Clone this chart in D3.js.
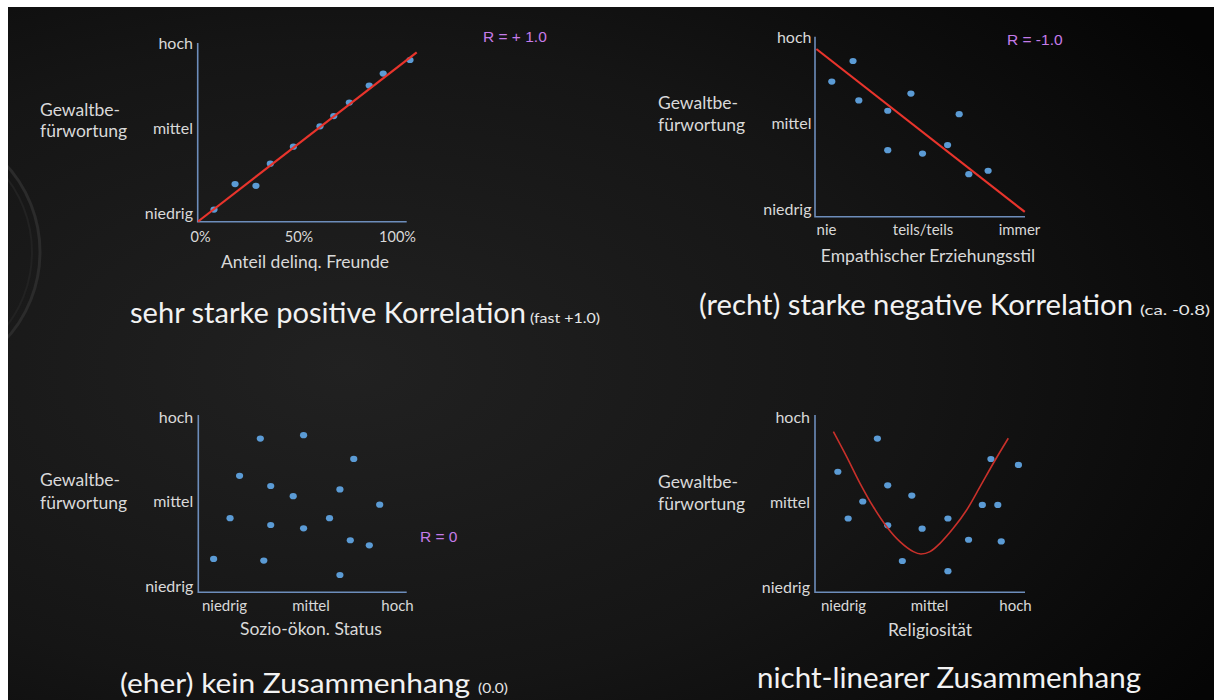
<!DOCTYPE html>
<html>
<head>
<meta charset="utf-8">
<title>Korrelationen</title>
<script src="https://cdn.jsdelivr.net/npm/d3@7"></script>
<style>
  body { margin: 0; background: #fff; overflow: hidden; }
  text { font-family: Lato, "Open Sans", sans-serif; }
</style>
</head>
<body>
<div id="chart"></div>
<script>
// ---- Daten ----
// y: 0 = niedrig, 0.5 = mittel, 1 = hoch
const yLevels = ["niedrig", "mittel", "hoch"];
const yLabel = ["Gewaltbe-", "fürwortung"];

// 1) Anteil delinquenter Freunde (in %)
const friendsTicks = [0, 50, 100];
const friendsX = [7.1, 17.8, 28.4, 35.7, 47.4, 60.9, 67.9, 75.8, 85.9, 93.0, 106.6];
const friendsY = [0.02, 0.17, 0.16, 0.29, 0.39, 0.51, 0.57, 0.65, 0.75, 0.82, 0.90];
const friendsFitX = [-1, 110];
const friendsFitY = [-0.05, 0.945];

// 2) Empathischer Erziehungsstil
const empathyLevels = ["nie", "teils/teils", "immer"];
const empathyX = [0.03, 0.14, 0.17, 0.32, 0.32, 0.44, 0.50, 0.63, 0.69, 0.74, 0.84];
const empathyY = [0.74, 0.86, 0.63, 0.57, 0.34, 0.67, 0.32, 0.37, 0.55, 0.20, 0.22];
const empathyFitX = [-0.05, 1.03];
const empathyFitY = [0.93, -0.02];

// 3) Sozio-ökonomischer Status
const statusLevels = ["niedrig", "mittel", "hoch"];
const statusX = [0.21, 0.46, 0.75, 0.09, 0.27, 0.40, 0.67, 0.90, 0.035, 0.27, 0.46, 0.61, 0.73, 0.84, -0.06, 0.23, 0.67];
const statusY = [0.87, 0.89, 0.75, 0.65, 0.59, 0.53, 0.57, 0.48, 0.40, 0.36, 0.34, 0.40, 0.27, 0.24, 0.16, 0.15, 0.065];

// 4) Religiosität
const religionLevels = ["niedrig", "mittel", "hoch"];
const religionX = [-0.03, 0.20, 0.26, 0.115, 0.03, 0.26, 0.40, 0.46, 0.345, 0.61, 0.61, 0.73, 0.81, 0.90, 0.86, 1.02, 0.92];
const religionY = [0.675, 0.87, 0.595, 0.50, 0.40, 0.36, 0.535, 0.34, 0.15, 0.40, 0.09, 0.275, 0.48, 0.48, 0.75, 0.715, 0.265];
const religionCurveX = [-0.056, 0.021, 0.099, 0.176, 0.254, 0.331, 0.409, 0.453, 0.506, 0.564, 0.641, 0.719, 0.797, 0.874, 0.961];
const religionCurveY = [0.911, 0.764, 0.607, 0.469, 0.352, 0.264, 0.205, 0.191, 0.205, 0.254, 0.342, 0.45, 0.587, 0.725, 0.872];

const titles = ["sehr starke positive Korrelation", "(recht) starke negative Korrelation",
                "(eher) kein Zusammenhang", "nicht-linearer Zusammenhang"];
const notes = ["(fast +1.0)", "(ca. -0.8)", "(0.0)", ""];
const rLabels = ["R = + 1.0", "R = -1.0", "R = 0", ""];

// ---- Zeichnen ----
const W = 1214, H = 700;
const axisColor = "#6d8dbb", dotColor = "#5b9bd5", labelColor = "#d9d9d9";

const svg = d3.select("#chart").append("svg").attr("width", W).attr("height", H);

const defs = svg.append("defs");
const grad = defs.append("radialGradient").attr("id", "bg")
    .attr("cx", "28%").attr("cy", "52%").attr("r", "85%");
grad.append("stop").attr("offset", "0%").attr("stop-color", "#212121");
grad.append("stop").attr("offset", "55%").attr("stop-color", "#151515");
grad.append("stop").attr("offset", "100%").attr("stop-color", "#050505");

svg.append("rect").attr("width", W).attr("height", H).attr("fill", "#fff");
svg.append("rect").attr("x", 8).attr("y", 7).attr("width", W - 8).attr("height", H - 7).attr("fill", "url(#bg)");

// dekorative Kreisbögen links
const deco = svg.append("g").attr("fill", "none");
deco.append("circle").attr("cx", -89).attr("cy", 252).attr("r", 129).attr("stroke", "#2b2b2b").attr("stroke-width", 3);
deco.append("circle").attr("cx", -89).attr("cy", 252).attr("r", 121).attr("stroke", "#222").attr("stroke-width", 2);
svg.append("rect").attr("width", 8).attr("height", H).attr("fill", "#fff");

const panels = [
  { xDomain: [0, 100], xRange: [200, 397], yRange: [213, 43], xTicks: friendsTicks, xFmt: d => d + "%", xFs: 14.5,
    left: 197.7, top: 43, bottom: 221.7, right: 406.7, yTickX: 193, xTickY: 237,
    xTitle: "Anteil delinq. Freunde", xTitleX: 305, xTitleY: 262, labX: 40, labY: [110, 131],
    xs: friendsX, ys: friendsY, fitX: friendsFitX, fitY: friendsFitY, fitColor: "#e8342c", fitW: 2.2,
    title: [130, 323, 396, 28.5], note: [530, 323, 70], r: [483, 37] },
  { xDomain: [0, 1], xRange: [826, 1019], yRange: [208.5, 37], xTicks: [0, 0.5, 1], xFmt: (d, i) => empathyLevels[i], xFs: 15,
    left: 815, top: 36.7, bottom: 216.7, right: 1025, yTickX: 811.5, xTickY: 230,
    xTitle: "Empathischer Erziehungsstil", xTitleX: 928, xTitleY: 256, labX: 658, labY: [103, 125],
    xs: empathyX, ys: empathyY, fitX: empathyFitX, fitY: empathyFitY, fitColor: "#e8342c", fitW: 2.2,
    title: [699, 315, 434, 28.5], note: [1140, 315, 70], r: [1007, 40] },
  { xDomain: [0, 1], xRange: [224, 397], yRange: [586, 416.5], xTicks: [0, 0.5, 1], xFmt: (d, i) => statusLevels[i], xFs: 15,
    left: 198.3, top: 415, bottom: 592.3, right: 406.7, yTickX: 193.3, xTickY: 606,
    xTitle: "Sozio-ökon. Status", xTitleX: 311, xTitleY: 629, labX: 40, labY: [480, 503],
    xs: statusX, ys: statusY,
    title: [120, 693, 350, 27], note: [478, 693, 30], r: [420, 537] },
  { xDomain: [0, 1], xRange: [843, 1015], yRange: [586.5, 416.5], xTicks: [0, 0.5, 1], xFmt: (d, i) => religionLevels[i], xFs: 15,
    left: 815, top: 415, bottom: 592.3, right: 1025, yTickX: 810, xTickY: 606,
    xTitle: "Religiosität", xTitleX: 930, xTitleY: 630, labX: 658, labY: [482, 504],
    xs: religionX, ys: religionY, fitX: religionCurveX, fitY: religionCurveY, fitColor: "#c8302a", fitW: 1.6, curved: true,
    title: [757, 688, 384, 28.5], note: null, r: null }
];

panels.forEach((p, i) => {
  const g = svg.append("g");
  const x = d3.scaleLinear().domain(p.xDomain).range(p.xRange);
  const y = d3.scaleLinear().domain([0, 1]).range(p.yRange);

  // Achsenlinien
  g.append("path")
    .attr("d", `M${p.left},${p.top}V${p.bottom}H${p.right}`)
    .attr("fill", "none").attr("stroke", axisColor).attr("stroke-width", 1.6);

  // y-Beschriftung
  const ya = g.append("g").attr("transform", `translate(${p.yTickX},0)`)
    .call(d3.axisLeft(y).tickValues([0, 0.5, 1]).tickFormat((d, k) => yLevels[k]).tickSize(0).tickPadding(0));
  ya.select(".domain").remove();
  ya.attr("font-family", null).attr("font-size", 16).style("color", labelColor);
  ya.selectAll("text").attr("x", 0).attr("dy", "0.35em");

  // x-Beschriftung
  const xa = g.append("g").attr("transform", `translate(0,${p.xTickY})`)
    .call(d3.axisBottom(x).tickValues(p.xTicks).tickFormat(p.xFmt).tickSize(0).tickPadding(0));
  xa.select(".domain").remove();
  xa.attr("font-family", null).attr("font-size", p.xFs).style("color", labelColor);
  xa.selectAll("text").attr("y", 0).attr("dy", "0.35em");

  g.append("text").attr("x", p.xTitleX).attr("y", p.xTitleY).attr("dy", "0.35em")
    .attr("text-anchor", "middle").attr("font-size", 17.5).attr("fill", labelColor).text(p.xTitle);

  g.selectAll("text.ylab").data(yLabel).join("text").attr("class", "ylab")
    .attr("x", p.labX).attr("y", (d, k) => p.labY[k]).attr("dy", "0.35em")
    .attr("font-size", 17.5).attr("fill", labelColor).text(d => d);

  // Punkte
  g.selectAll("ellipse").data(p.xs.map((v, k) => [v, p.ys[k]])).join("ellipse")
    .attr("cx", d => x(d[0])).attr("cy", d => y(d[1]))
    .attr("rx", 3.6).attr("ry", 3.1).attr("fill", dotColor);

  // Regressionslinie / Kurve
  if (p.fitX) {
    const line = d3.line().x(d => x(d[0])).y(d => y(d[1]));
    if (p.curved) line.curve(d3.curveCatmullRom);
    g.append("path").datum(p.fitX.map((v, k) => [v, p.fitY[k]]))
      .attr("d", line).attr("fill", "none")
      .attr("stroke", p.fitColor).attr("stroke-width", p.fitW);
  }

  // Titel
  g.append("text").attr("x", p.title[0]).attr("y", p.title[1])
    .attr("font-size", p.title[3]).attr("fill", "#f2f2f2")
    .attr("textLength", p.title[2]).attr("lengthAdjust", "spacingAndGlyphs").text(titles[i]);
  if (p.note) {
    g.append("text").attr("x", p.note[0]).attr("y", p.note[1])
      .attr("font-size", 13.5).attr("fill", "#e6e6e6")
      .attr("textLength", p.note[2]).attr("lengthAdjust", "spacingAndGlyphs").text(notes[i]);
  }
  if (p.r) {
    g.append("text").attr("x", p.r[0]).attr("y", p.r[1]).attr("dy", "0.35em")
      .style("font-family", "'Liberation Sans', Arial, sans-serif")
      .attr("font-size", 15.5).attr("fill", "#c57be9").text(rLabels[i]);
  }
});
</script>
</body>
</html>
